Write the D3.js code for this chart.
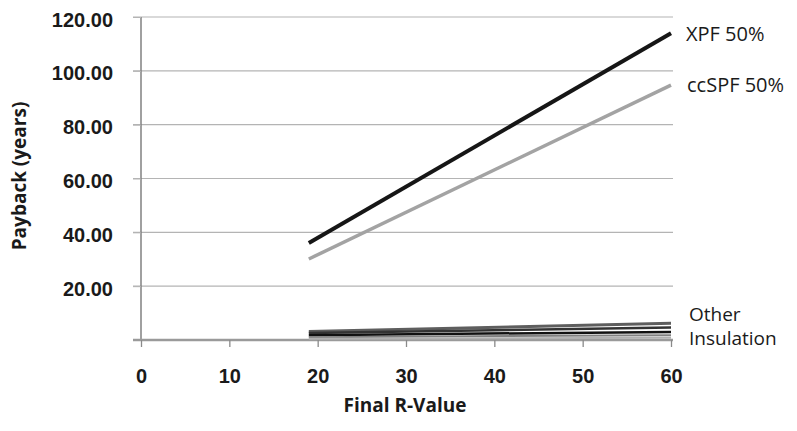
<!DOCTYPE html>
<html>
<head>
<meta charset="utf-8">
<script src="https://cdn.jsdelivr.net/npm/d3@7"></script>
<style>
  body { margin: 0; background: #fff; }
  svg { display: block; font-family: "Open Sans", sans-serif; }
</style>
</head>
<body>
<div id="chart"></div>
<script>
// Data
const rValues = [19, 60];
const xpf = [36.0, 114.0];
const ccspf = [30.1, 94.7];
const otherA = [3.2, 6.2];
const otherB = [2.6, 4.6];
const otherC = [1.8, 3.0];
const otherD = [1.0, 1.8];
const otherE = [0.5, 0.8];
const xTicks = [0, 10, 20, 30, 40, 50, 60];
const yTicks = [20, 40, 60, 80, 100, 120];

const series = [
    { name: "otherA", values: otherA, color: "#5e5e5e", width: 3 },
    { name: "otherB", values: otherB, color: "#333", width: 2.5 },
    { name: "otherC", values: otherC, color: "#111", width: 2.5 },
    { name: "otherD", values: otherD, color: "#808080", width: 2 },
    { name: "otherE", values: otherE, color: "#b0b0b0", width: 2 },
    { name: "ccSPF 50%", values: ccspf, color: "#a3a3a3", width: 3.5 },
    { name: "XPF 50%", values: xpf, color: "#161616", width: 4 }
];

const svg = d3.select("#chart").append("svg").attr("width", 797).attr("height", 431);

const x = d3.scaleLinear().domain([0, 60]).range([141, 671]);
const y = d3.scaleLinear().domain([0, 120]).range([340, 17]);

// Gridlines
svg.append("g")
    .selectAll("line")
    .data(yTicks)
    .enter().append("line")
    .attr("x1", 133).attr("x2", 673)
    .attr("y1", d => y(d)).attr("y2", d => y(d))
    .attr("stroke", "#b4b4b4")
    .attr("stroke-width", 1.2);

// Y axis
const yAxis = svg.append("g")
    .attr("transform", `translate(${x(0)},0)`)
    .call(d3.axisLeft(y).tickValues(yTicks).tickSize(8).tickPadding(20).tickFormat(d3.format(".2f")));
yAxis.select(".domain").attr("stroke", "#808080").attr("stroke-width", 1.5).attr("d", `M0,${y(120)}V${y(0)}`);
yAxis.selectAll(".tick line").attr("stroke", "#b4b4b4");
yAxis.selectAll(".tick text")
    .attr("fill", "#1a1a1a")
    .style("font-size", "20px")
    .style("font-weight", 600)
    .attr("dy", "0.45em");

// X axis
const xAxis = svg.append("g")
    .attr("transform", `translate(0,${y(0)})`)
    .call(d3.axisBottom(x).tickValues(xTicks).tickSize(7).tickPadding(22));
xAxis.select(".domain").attr("stroke", "#9a9a9a").attr("stroke-width", 2.5).attr("d", "M133,0H673");
xAxis.selectAll(".tick line").attr("stroke", "#8a8a8a").attr("stroke-width", 1.3);
xAxis.selectAll(".tick text")
    .attr("fill", "#1a1a1a")
    .style("font-size", "20px")
    .style("font-weight", 600);

// Lines
const line = d3.line()
    .x((d, i) => x(rValues[i]))
    .y(d => y(d));

svg.append("g")
    .selectAll("path")
    .data(series)
    .enter().append("path")
    .attr("fill", "none")
    .attr("stroke", d => d.color)
    .attr("stroke-width", d => d.width)
    .attr("d", d => line(d.values));

// Series labels
const labels = svg.append("g")
    .style("font-size", "20px")
    .attr("fill", "#1a1a1a");
labels.append("text").attr("x", 686).attr("y", y(xpf[1]) + 8).text("XPF 50%");
labels.append("text").attr("x", 687).attr("y", y(ccspf[1]) + 7).text("ccSPF 50%");
labels.append("text").attr("x", 689).attr("y", 321).style("font-size", "19px").text("Other");
labels.append("text").attr("x", 689).attr("y", 345).style("font-size", "19px").text("Insulation");

// Axis titles
svg.append("text")
    .attr("x", 405).attr("y", 412)
    .attr("text-anchor", "middle")
    .style("font-size", "19px")
    .style("font-weight", 700)
    .attr("fill", "#1a1a1a")
    .text("Final R-Value");

svg.append("text")
    .attr("transform", "translate(26,176) rotate(-90)")
    .attr("text-anchor", "middle")
    .style("font-size", "19px")
    .style("font-weight", 700)
    .attr("fill", "#1a1a1a")
    .text("Payback (years)");
</script>
</body>
</html>
